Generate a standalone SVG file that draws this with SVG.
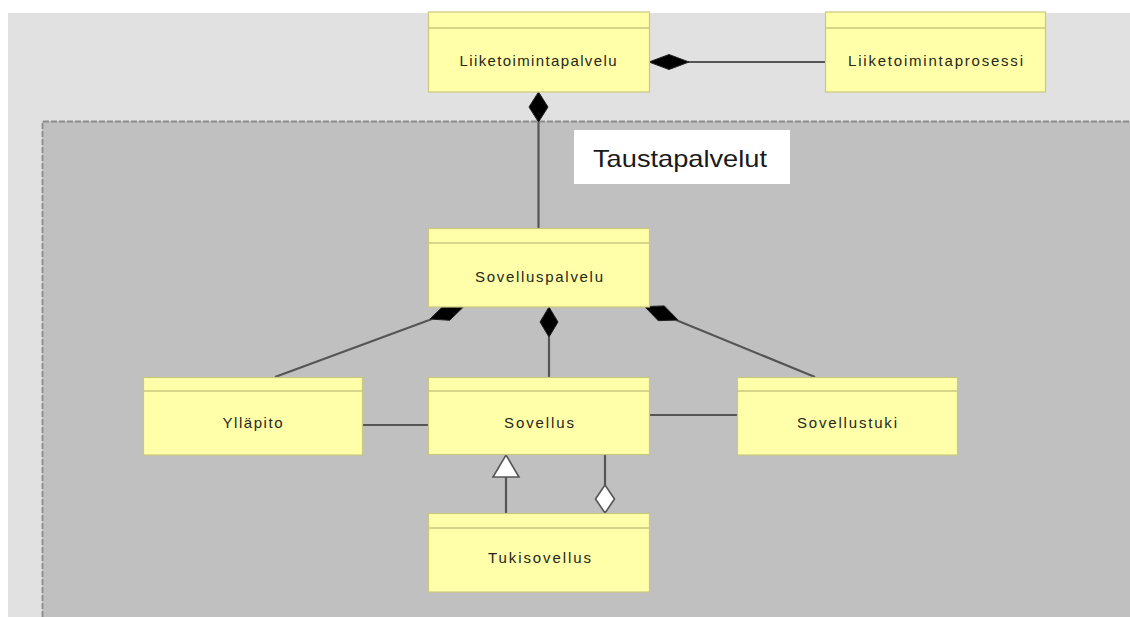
<svg xmlns="http://www.w3.org/2000/svg" width="1130" height="617" viewBox="0 0 1130 617">
<style>
.box{fill:#ffffaa;stroke:#c9c97c;stroke-width:1.2}
.hdr{stroke:#c9c97c;stroke-width:1.4}
.lbl{font-family:"Liberation Sans",Arial,sans-serif;font-size:15px;fill:#26261a;text-anchor:middle}
.ln{stroke:#555;stroke-width:2.2;fill:none}
.fd{fill:#000;stroke:#222;stroke-width:1}
.hd{fill:#fff;stroke:#555;stroke-width:1.6}
</style>
<rect x="0" y="0" width="1130" height="617" fill="#ffffff"/>
<rect x="8" y="13" width="1122" height="604" fill="#e1e1e1"/>
<g id="container">
<rect x="42" y="121" width="1100" height="510" fill="#c0c0c0"/>
<path d="M42.5 617 V121.5 H1130" fill="none" stroke="#8c8c8c" stroke-width="1.8" stroke-dasharray="6 2"/>
</g>
<g id="connectors">
<line class="ln" x1="688" y1="62" x2="825" y2="62"/>
<polygon class="fd" points="649,62 669,54.5 689,62 669,69.5"/>
<line class="ln" x1="538.5" y1="122" x2="538.5" y2="228"/>
<polygon class="fd" points="538.5,92 548,107 538.5,122 529,107"/>
<line class="ln" x1="275" y1="377" x2="432" y2="319"/>
<polygon class="fd" points="430,319 449.7,320.3 463.8,306.6 444.1,305.3"/>
<line class="ln" x1="549" y1="337" x2="549" y2="377"/>
<polygon class="fd" points="549,307 558,322 549,337 540,322"/>
<line class="ln" x1="676" y1="320" x2="815" y2="377"/>
<polygon class="fd" points="678,320 664.3,305.9 644.6,306.6 658.3,320.7"/>
<line class="ln" x1="362" y1="425" x2="428.5" y2="425"/>
<line class="ln" x1="649.5" y1="415" x2="737.5" y2="415"/>
<line class="ln" x1="506" y1="477" x2="506" y2="513"/>
<polygon class="hd" points="506,455 519,477 493,477"/>
<line class="ln" x1="605" y1="455" x2="605" y2="485"/>
<polygon class="hd" points="605,485 614.5,499 605,513 595.5,499"/>
</g>
<g id="n-liiketoimintapalvelu">
<rect class="box" x="428.5" y="12" width="221" height="80"/>
<line class="hdr" x1="428.5" y1="28" x2="649.5" y2="28"/>
<text class="lbl" x="538" y="66" textLength="157" lengthAdjust="spacing">Liiketoimintapalvelu</text>
</g>
<g id="n-liiketoimintaprosessi">
<rect class="box" x="825.5" y="12" width="220" height="80"/>
<line class="hdr" x1="825.5" y1="28" x2="1045.5" y2="28"/>
<text class="lbl" x="935.5" y="66" textLength="175" lengthAdjust="spacing">Liiketoimintaprosessi</text>
</g>
<g id="n-sovelluspalvelu">
<rect class="box" x="428.5" y="228.5" width="221" height="78.5"/>
<line class="hdr" x1="428.5" y1="243" x2="649.5" y2="243"/>
<text class="lbl" x="539" y="282" textLength="128" lengthAdjust="spacing">Sovelluspalvelu</text>
</g>
<g id="n-yllapito">
<rect class="box" x="143.5" y="377.5" width="219" height="77.5"/>
<line class="hdr" x1="143.5" y1="391" x2="362.5" y2="391"/>
<text class="lbl" x="252.5" y="428" textLength="60" lengthAdjust="spacing">Ylläpito</text>
</g>
<g id="n-sovellus">
<rect class="box" x="428.5" y="377.5" width="221" height="77"/>
<line class="hdr" x1="428.5" y1="391" x2="649.5" y2="391"/>
<text class="lbl" x="539" y="428" textLength="70" lengthAdjust="spacing">Sovellus</text>
</g>
<g id="n-sovellustuki">
<rect class="box" x="737.5" y="377.5" width="220" height="77.5"/>
<line class="hdr" x1="737.5" y1="391" x2="957.5" y2="391"/>
<text class="lbl" x="847" y="428" textLength="100" lengthAdjust="spacing">Sovellustuki</text>
</g>
<g id="n-tukisovellus">
<rect class="box" x="428.5" y="513.5" width="221" height="78.5"/>
<line class="hdr" x1="428.5" y1="528" x2="649.5" y2="528"/>
<text class="lbl" x="539.5" y="563" textLength="103" lengthAdjust="spacing">Tukisovellus</text>
</g>
<g id="label-taustapalvelut">
<rect x="574" y="130" width="216" height="54" fill="#ffffff"/>
<text x="593" y="167" font-family="'Liberation Sans',Arial,sans-serif" font-size="24" fill="#1a1a1a" textLength="174" lengthAdjust="spacingAndGlyphs">Taustapalvelut</text>
</g>
</svg>
